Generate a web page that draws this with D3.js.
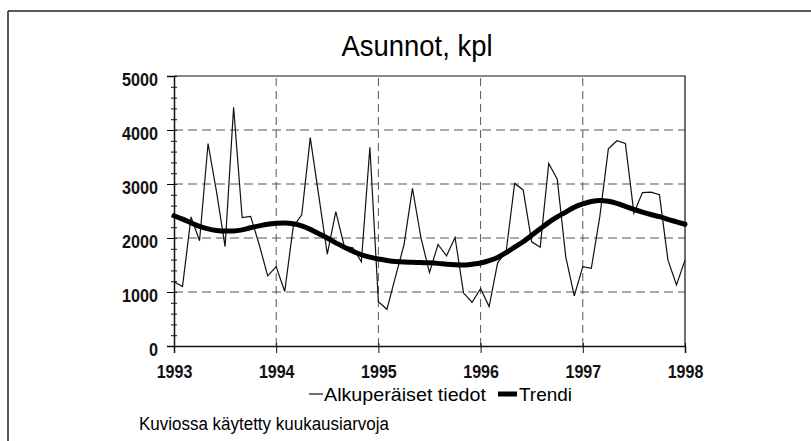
<!DOCTYPE html>
<html>
<head>
<meta charset="utf-8">
<script src="https://cdn.jsdelivr.net/npm/d3@7"></script>
<style>
  body { margin: 0; background: #fff; }
  svg { display: block; font-family: "Liberation Sans", Arial, sans-serif; }
</style>
</head>
<body>
<svg id="chart" width="811" height="441"></svg>
<script>
// Asunnot (kpl), kuukausiarvot 1/1993 - 1/1998
const years = [1993, 1994, 1995, 1996, 1997, 1998];
const yTicks = [0, 1000, 2000, 3000, 4000, 5000];

const original = [
  1190, 1100, 2390, 1950, 3750, 2850, 1840, 4420, 2380, 2400, 1880, 1300,
  1470, 1010, 2210, 2430, 3860, 2780, 1700, 2490, 1840, 1820, 1560, 3680,
  820, 680, 1280, 1870, 2920, 2000, 1360, 1880, 1670, 2010, 980, 810,
  1060, 730, 1540, 1750, 3010, 2890, 1930, 1830, 3380, 3090, 1650, 930,
  1470, 1440, 2400, 3650, 3800, 3750, 2460, 2840, 2850, 2800, 1590, 1130,
  1590
];

const trend = [
  2413, 2350, 2280, 2215, 2170, 2140, 2128, 2130, 2150, 2190, 2225, 2255,
  2272, 2280, 2265, 2225, 2160, 2080, 2000, 1910, 1830, 1755, 1690, 1645,
  1610, 1585, 1565, 1555, 1550, 1545, 1540, 1530, 1515, 1505, 1500, 1515,
  1537, 1580, 1640, 1730, 1830, 1930, 2050, 2170, 2290, 2390, 2480, 2570,
  2630, 2675, 2695, 2680, 2640, 2585, 2530, 2480, 2435, 2395, 2345, 2300,
  2255
];

const svg = d3.select('#chart');

// outer frame (top + left)
svg.append('line').attr('x1', 8).attr('x2', 811).attr('y1', 11).attr('y2', 11)
  .attr('stroke', '#222').attr('stroke-width', 1.5);
svg.append('line').attr('x1', 8).attr('x2', 8).attr('y1', 11).attr('y2', 441)
  .attr('stroke', '#222').attr('stroke-width', 1.5);

const x = d3.scaleLinear().domain([1993, 1998]).range([174, 685]);
const y = d3.scaleLinear().domain([0, 5000]).range([346, 76]);
const monthX = i => x(1993 + i / 12);

// the original print uses a condensed face, squeeze glyphs to match
const squeeze = (sel, perChar) => sel
  .attr('lengthAdjust', 'spacingAndGlyphs')
  .attr('textLength', function () { return this.textContent.length * perChar; });

// title
svg.append('text')
  .attr('x', 417).attr('y', 56)
  .attr('text-anchor', 'middle')
  .style('font-size', '30px')
  .attr('textLength', 151).attr('lengthAdjust', 'spacingAndGlyphs')
  .text('Asunnot, kpl');

// grid
svg.append('g').selectAll('line')
  .data(yTicks.filter(d => d > 0 && d < 5000))
  .join('line')
  .attr('x1', x(1993)).attr('x2', x(1998))
  .attr('y1', d => y(d)).attr('y2', d => y(d))
  .attr('stroke', '#555').attr('stroke-width', 1)
  .attr('stroke-dasharray', '9,5');

svg.append('g').selectAll('line')
  .data(years.filter(d => d > 1993 && d < 1998))
  .join('line')
  .attr('x1', d => x(d)).attr('x2', d => x(d))
  .attr('y1', y(0)).attr('y2', y(5000))
  .attr('stroke', '#555').attr('stroke-width', 1)
  .attr('stroke-dasharray', '8,5');

// plot box top and right
svg.append('path')
  .attr('d', `M${x(1993)},${y(5000)}H${x(1998)}V${y(0)}`)
  .attr('fill', 'none').attr('stroke', '#111').attr('stroke-width', 1.2);

// y axis with minor ticks
const yMinor = d3.axisLeft(y).tickValues(d3.range(0, 5001, 200)).tickSize(3).tickFormat('');
svg.append('g').attr('transform', `translate(${x(1993)},0)`).call(yMinor)
  .call(g => g.select('.domain').remove())
  .call(g => g.selectAll('line').attr('x2', 3).attr('x1', -3).attr('stroke', '#111'));

const yAxis = d3.axisLeft(y).tickValues(yTicks).tickFormat(d3.format('d')).tickSize(7).tickPadding(9);
svg.append('g').attr('transform', `translate(${x(1993)},0)`).call(yAxis)
  .call(g => g.select('.domain').attr('stroke', '#111').attr('stroke-width', 1.5))
  .call(g => g.selectAll('text')
    .attr('dy', '0.5em')
    .style('font-size', '18px').style('font-weight', 'bold').attr('fill', '#111')
    .style('font-family', '"Liberation Sans", Arial, sans-serif')
    .call(squeeze, 9));

// x axis
const xAxis = d3.axisBottom(x).tickValues(years).tickFormat(d3.format('d')).tickSize(7).tickPadding(12);
svg.append('g').attr('transform', `translate(0,${y(0)})`).call(xAxis)
  .call(g => g.select('.domain').attr('stroke', '#111').attr('stroke-width', 1.5))
  .call(g => g.selectAll('line').attr('y1', -3).attr('stroke', '#111'))
  .call(g => g.selectAll('text')
    .style('font-size', '18px').style('font-weight', 'bold').attr('fill', '#111')
    .style('font-family', '"Liberation Sans", Arial, sans-serif')
    .call(squeeze, 8.9));

// series
const line = d3.line().x((d, i) => monthX(i)).y(d => y(d));

svg.append('path').datum(original)
  .attr('d', line)
  .attr('fill', 'none').attr('stroke', '#111').attr('stroke-width', 1.2)
  .attr('stroke-linejoin', 'miter');

svg.append('path').datum(trend)
  .attr('d', line.curve(d3.curveMonotoneX))
  .attr('fill', 'none').attr('stroke', '#000').attr('stroke-width', 5)
  .attr('stroke-linecap', 'round');

// legend
const legend = svg.append('g').style('font-size', '19px');
legend.append('line').attr('x1', 309).attr('x2', 323).attr('y1', 394).attr('y2', 394)
  .attr('stroke', '#111').attr('stroke-width', 1.2);
legend.append('text').attr('x', 324).attr('y', 401)
  .attr('textLength', 162).attr('lengthAdjust', 'spacingAndGlyphs')
  .text('Alkuperäiset tiedot');
legend.append('line').attr('x1', 498).attr('x2', 517).attr('y1', 394).attr('y2', 394)
  .attr('stroke', '#000').attr('stroke-width', 5);
legend.append('text').attr('x', 519).attr('y', 401)
  .attr('textLength', 53).attr('lengthAdjust', 'spacingAndGlyphs')
  .text('Trendi');

// footnote
svg.append('text')
  .attr('x', 139).attr('y', 430)
  .style('font-size', '18px')
  .attr('textLength', 250).attr('lengthAdjust', 'spacingAndGlyphs')
  .text('Kuviossa käytetty kuukausiarvoja');
</script>
</body>
</html>
